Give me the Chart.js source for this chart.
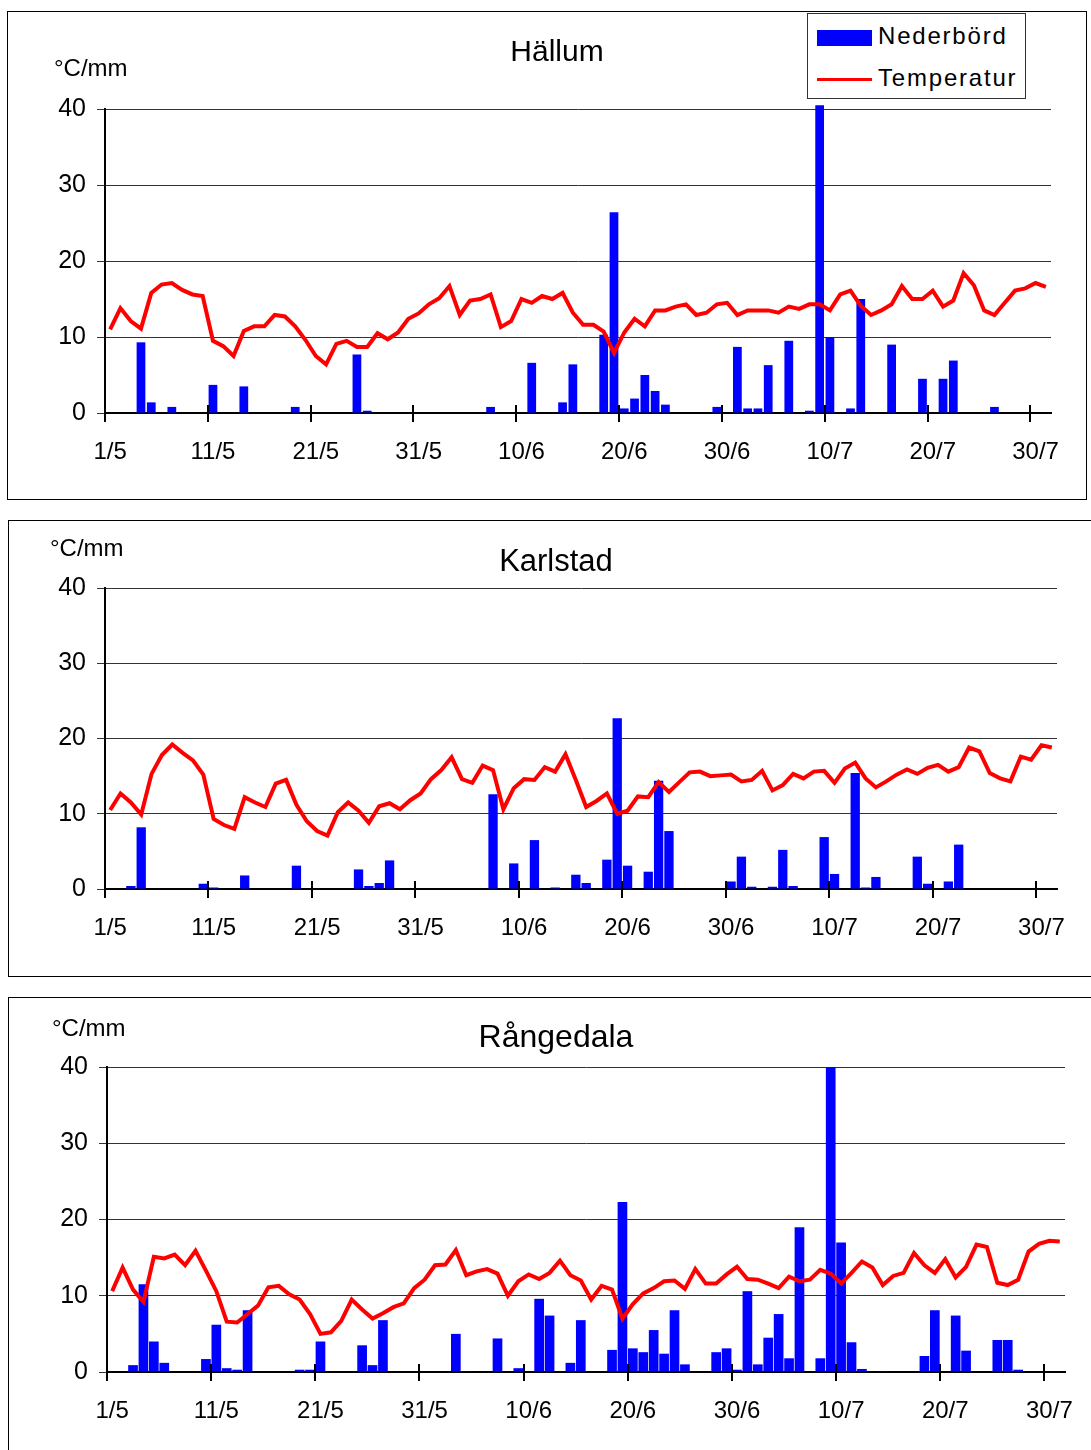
<!DOCTYPE html>
<html>
<head>
<meta charset="utf-8">
<script src="https://cdn.jsdelivr.net/npm/chart.js@4.4.0/dist/chart.umd.min.js"></script>
<style>
  body { margin: 0; width: 1091px; height: 1450px; overflow: hidden; background: #fff; position: relative;
         font-family: "Liberation Sans", Arial, sans-serif; color: #000; }
  .frame { position: absolute; border: 1px solid #000; box-sizing: border-box; }
  canvas { position: absolute; left: 0; }
  .txt { position: absolute; white-space: nowrap; line-height: 1; }
  .title { transform: translate(-50%, -50%); }
  .unit { transform: translateY(-50%); font-size: 24px; }
  #legend { position: absolute; left: 807px; top: 13px; width: 219px; height: 86px; border: 1px solid #333;
            box-sizing: border-box; background: #fff; font-size: 24px; letter-spacing: 1.8px; }
  #legend .sw { position: absolute; }
  #legend .lb { position: absolute; left: 70px; transform: translateY(-50%); line-height: 1; }
</style>
</head>
<body>
<div class="frame" style="left:7px;top:11px;width:1080px;height:489px"></div>
<div class="frame" style="left:8px;top:520px;width:1100px;height:457px"></div>
<div class="frame" style="left:8px;top:997px;width:1100px;height:500px"></div>

<canvas id="c1" width="1091" height="489" style="top:11px"></canvas>
<canvas id="c2" width="1091" height="456" style="top:521px"></canvas>
<canvas id="c3" width="1091" height="453" style="top:997px"></canvas>

<div class="txt title" style="left:557px;top:51px;font-size:30px">Hällum</div>
<div class="txt unit" style="left:54px;top:68px">°C/mm</div>
<div class="txt title" style="left:556px;top:560px;font-size:31px">Karlstad</div>
<div class="txt unit" style="left:50px;top:548px">°C/mm</div>
<div class="txt title" style="left:556px;top:1036px;font-size:32px">Rångedala</div>
<div class="txt unit" style="left:52px;top:1028px">°C/mm</div>

<div id="legend">
  <div class="sw" style="left:9px;top:16px;width:55px;height:16px;background:#0000ff"></div>
  <div class="lb" style="top:22px">Nederbörd</div>
  <div class="sw" style="left:9px;top:64px;width:55px;height:3px;background:#ff0000"></div>
  <div class="lb" style="top:64px">Temperatur</div>
</div>

<script>
// dagar 1/5 - 31/7
var months = [[5, 31], [6, 30], [7, 31]];
var dayLabels = [];
for (var m = 0; m < months.length; m++) {
	for (var d = 1; d <= months[m][1]; d++) {
		dayLabels.push(d + "/" + months[m][0]);
	}
}

var hallumTemp = [
	11.0, 13.8, 12.1, 11.1, 15.8, 16.9, 17.1, 16.2, 15.6, 15.4,
	9.5, 8.8, 7.5, 10.8, 11.4, 11.4, 12.9, 12.7, 11.4, 9.6,
	7.5, 6.4, 9.1, 9.5, 8.7, 8.7, 10.5, 9.7, 10.6, 12.4,
	13.1, 14.3, 15.1, 16.7, 12.9, 14.8, 15.0, 15.6, 11.3, 12.1,
	15.0, 14.5, 15.4, 15.0, 15.8, 13.2, 11.6, 11.6, 10.7, 7.9,
	10.6, 12.4, 11.4, 13.5, 13.5, 14.0, 14.3, 12.9, 13.2, 14.3,
	14.5, 12.9, 13.5, 13.5, 13.5, 13.2, 14.0, 13.7, 14.3, 14.3,
	13.5, 15.6, 16.1, 14.1, 12.9, 13.5, 14.3, 16.7, 15.0, 15.0,
	16.1, 14.0, 14.8, 18.4, 16.8, 13.5, 12.9, 14.5, 16.1, 16.4,
	17.1, 16.6
];
var hallumRain = [
	0, 0, 0, 9.3, 1.4, 0, 0.8, 0, 0, 0,
	3.7, 0, 0, 3.5, 0, 0, 0, 0, 0.8, 0,
	0, 0, 0, 0, 7.7, 0.3, 0, 0, 0, 0,
	0, 0, 0, 0, 0, 0, 0, 0.8, 0, 0,
	0, 6.6, 0, 0, 1.4, 6.4, 0, 0, 10.3, 26.4,
	0.6, 1.9, 5.0, 2.9, 1.1, 0, 0, 0, 0, 0.8,
	0, 8.7, 0.6, 0.6, 6.3, 0, 9.5, 0, 0.3, 40.5,
	10.0, 0, 0.6, 15.0, 0, 0, 9.0, 0, 0, 4.5,
	0, 4.5, 6.9, 0, 0, 0, 0.8, 0, 0, 0,
	0, 0
];

var karlstadTemp = [
	10.5, 12.7, 11.5, 9.9, 15.3, 17.8, 19.2, 18.1, 17.1, 15.2,
	9.3, 8.5, 8.0, 12.2, 11.5, 10.9, 14.0, 14.5, 11.2, 9.0,
	7.7, 7.1, 10.2, 11.5, 10.4, 8.8, 11.0, 11.4, 10.6, 11.8,
	12.7, 14.6, 15.8, 17.5, 14.6, 14.1, 16.4, 15.8, 10.6, 13.4,
	14.6, 14.5, 16.2, 15.6, 17.9, 14.5, 10.9, 11.7, 12.7, 10.0,
	10.4, 12.3, 12.2, 14.2, 12.9, 14.2, 15.5, 15.6, 15.0, 15.1,
	15.2, 14.3, 14.5, 15.7, 13.1, 13.8, 15.3, 14.7, 15.6, 15.7,
	14.1, 16.0, 16.8, 14.7, 13.5, 14.3, 15.2, 15.9, 15.3, 16.1,
	16.5, 15.6, 16.2, 18.8, 18.3, 15.4, 14.7, 14.3, 17.6, 17.2,
	19.1, 18.8
];
var karlstadRain = [
	0, 0, 0.4, 8.2, 0, 0, 0, 0, 0, 0.7,
	0.2, 0, 0, 1.8, 0, 0, 0, 0, 3.1, 0,
	0, 0, 0, 0, 2.6, 0.4, 0.8, 3.8, 0, 0,
	0, 0, 0, 0, 0, 0, 0, 12.6, 0, 3.4,
	0, 6.5, 0, 0.2, 0, 1.9, 0.8, 0, 3.9, 22.7,
	3.1, 0, 2.3, 14.4, 7.7, 0, 0, 0, 0, 0,
	1.0, 4.3, 0.3, 0, 0.3, 5.2, 0.4, 0, 0, 6.9,
	2.0, 0, 15.4, 0.2, 1.6, 0, 0, 0, 4.3, 0.7,
	0, 1.0, 5.9, 0, 0, 0, 0, 0, 0, 0,
	0, 0
];

var rangedalaTemp = [
	10.6, 13.7, 10.8, 9.2, 15.1, 14.9, 15.4, 14.0, 15.9, 13.3,
	10.6, 6.6, 6.5, 7.6, 8.7, 11.1, 11.3, 10.2, 9.5, 7.6,
	5.0, 5.2, 6.7, 9.5, 8.2, 7.0, 7.7, 8.5, 9.0, 11.0,
	12.1, 14.0, 14.1, 16.0, 12.7, 13.2, 13.5, 12.9, 10.0, 11.9,
	12.8, 12.2, 13.0, 14.6, 12.7, 12.0, 9.5, 11.3, 10.8, 7.0,
	8.9, 10.3, 11.0, 11.9, 12.0, 10.9, 13.5, 11.6, 11.6, 12.8,
	13.8, 12.2, 12.1, 11.6, 11.0, 12.5, 11.9, 12.1, 13.4, 12.9,
	11.6, 13.0, 14.5, 13.7, 11.4, 12.6, 13.0, 15.6, 14.0, 13.0,
	14.8, 12.4, 13.8, 16.7, 16.4, 11.7, 11.4, 12.1, 15.8, 16.8,
	17.2, 17.1
];
var rangedalaRain = [
	0, 0, 0.9, 11.5, 4.0, 1.2, 0, 0, 0, 1.7,
	6.2, 0.5, 0.3, 8.1, 0, 0, 0, 0, 0.3, 0.3,
	4.0, 0, 0, 0, 3.5, 0.9, 6.8, 0, 0, 0,
	0, 0, 0, 5.0, 0.1, 0, 0, 4.4, 0, 0.5,
	0, 9.6, 7.4, 0, 1.2, 6.8, 0, 0, 2.9, 22.3,
	3.1, 2.6, 5.5, 2.4, 8.1, 1.0, 0, 0, 2.6, 3.1,
	0.3, 10.6, 1.0, 4.5, 7.6, 1.8, 19.0, 0, 1.8, 40.0,
	17.0, 3.9, 0.4, 0, 0.1, 0, 0, 0, 2.1, 8.1,
	0, 7.4, 2.8, 0, 0, 4.2, 4.2, 0.3, 0, 0,
	0, 0
];

Chart.defaults.font.family = '"Liberation Sans", Arial, sans-serif';
Chart.defaults.color = '#000';

// tickmarks som korsar x-axeln var tionde dag
var crossTicks = {
	id : 'crossTicks',
	afterDatasetsDraw : function(chart) {
		var x = chart.scales.x;
		var area = chart.chartArea;
		var ctx = chart.ctx;
		var half = (x.getPixelForValue(1) - x.getPixelForValue(0)) / 2;
		ctx.save();
		ctx.strokeStyle = '#000';
		ctx.lineWidth = 2;
		for (var i = 0; i < dayLabels.length; i += 10) {
			var px = Math.round(x.getPixelForValue(i) - half);
			ctx.beginPath();
			ctx.moveTo(px, area.bottom - 8);
			ctx.lineTo(px, area.bottom + 9);
			ctx.stroke();
		}
		ctx.restore();
	}
};

function makeChart(id, temp, rain, barPct, yWidth, pad) {
	return new Chart(document.getElementById(id), {
		data : {
			labels : dayLabels,
			datasets : [ {
				type : 'line',
				label : 'Temperatur',
				data : temp,
				borderColor : '#ff0000',
				borderWidth : 4,
				pointRadius : 0,
				tension : 0,
				order : 0
			}, {
				type : 'bar',
				label : 'Nederbörd',
				data : rain,
				backgroundColor : '#0000ff',
				barPercentage : barPct,
				categoryPercentage : 1,
				clip : false,
				order : 1
			} ]
		},
		options : {
			responsive : false,
			animation : false,
			events : [],
			layout : { padding : pad },
			plugins : {
				legend : { display : false },
				tooltip : { enabled : false },
				title : { display : false }
			},
			scales : {
				x : {
					type : 'category',
					offset : true,
					grid : { display : false, drawTicks : false },
					border : { display : true, color : '#000', width : 2 },
					ticks : {
						autoSkip : false,
						maxRotation : 0,
						minRotation : 0,
						padding : 25,
						font : { size : 24 },
						callback : function(v, i) {
							return i % 10 === 0 ? dayLabels[i] : '';
						}
					},
					afterFit : function(s) { s.height = 60; }
				},
				y : {
					min : 0,
					max : 40,
					ticks : { stepSize : 10, padding : 11, font : { size : 25 } },
					grid : { color : '#333', lineWidth : 1, tickLength : 8 },
					border : { display : true, color : '#000', width : 2 },
					afterFit : function(s) { s.width = yWidth; }
				}
			}
		},
		plugins : [ crossTicks ]
	});
}

makeChart('c1', hallumTemp, hallumRain, 0.85, 105, { left : 0, top : 98, right : 40, bottom : 27 });
makeChart('c2', karlstadTemp, karlstadRain, 0.9, 105, { left : 0, top : 67, right : 34, bottom : 28 });
makeChart('c3', rangedalaTemp, rangedalaRain, 0.93, 107, { left : 0, top : 70, right : 26, bottom : 18 });
</script>
</body>
</html>
